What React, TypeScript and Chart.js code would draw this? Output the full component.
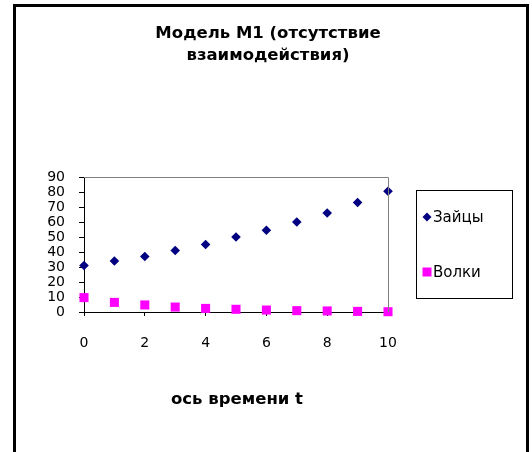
import React, { useEffect, useRef } from "react";
import { Chart, registerables } from "chart.js";

Chart.register(...registerables);

const timeSteps = [0, 1, 2, 3, 4, 5, 6, 7, 8, 9, 10];
const hares = [31, 34, 37, 41, 45, 50, 54.5, 60, 66, 73, 80.5];
const wolves = [9.6, 6.4, 4.7, 3.3, 2.4, 1.8, 1.3, 0.9, 0.7, 0.4, 0.2];
const seriesNames = ["Зайцы", "Волки"];
const titleLines = ["Модель М1 (отсутствие", "взаимодействия)"];
const xAxisTitle = "ось времени t";

const FONT = "'DejaVu Sans', 'Liberation Sans', Arial, sans-serif";

const decorPlugin = {
  id: "decor",
  afterDraw(chart: any) {
    const ctx = chart.ctx as CanvasRenderingContext2D;
    const ca = chart.chartArea;
    ctx.save();
    // grey top/right plot border
    ctx.strokeStyle = "#808080";
    ctx.lineWidth = 1;
    ctx.beginPath();
    ctx.moveTo(ca.left, Math.round(ca.top) + 0.5);
    ctx.lineTo(ca.right + 0.5, Math.round(ca.top) + 0.5);
    ctx.lineTo(Math.round(ca.right) + 0.5, ca.bottom);
    ctx.stroke();

    // outer chart border
    ctx.strokeStyle = "#000";
    ctx.lineWidth = 3;
    ctx.beginPath();
    ctx.moveTo(14.5, 470);
    ctx.lineTo(14.5, 5.5);
    ctx.lineTo(527.5, 5.5);
    ctx.lineTo(527.5, 470);
    ctx.stroke();

    // title
    ctx.fillStyle = "#000";
    ctx.textAlign = "center";
    ctx.textBaseline = "alphabetic";
    ctx.font = `bold 16.5px ${FONT}`;
    ctx.fillText(titleLines[0], 268, 38);
    ctx.fillText(titleLines[1], 268, 60);

    // x axis title
    ctx.font = `bold 16.5px ${FONT}`;
    ctx.fillText(xAxisTitle, (ca.left + ca.right) / 2 + 1, 404);

    // legend
    ctx.lineWidth = 1;
    ctx.strokeStyle = "#000";
    ctx.strokeRect(416.5, 190.5, 96, 108);
    const items = [
      { y: 217, color: "#000080", style: "diamond" },
      { y: 272, color: "#FF00FF", style: "square" },
    ];
    ctx.font = `15px ${FONT}`;
    ctx.textAlign = "left";
    ctx.textBaseline = "middle";
    items.forEach((it, i) => {
      const label = chart.data.datasets[i].label as string;
      const mx = 427;
      ctx.fillStyle = it.color;
      ctx.beginPath();
      if (it.style === "diamond") {
        ctx.moveTo(mx, it.y - 4.5);
        ctx.lineTo(mx + 4.5, it.y);
        ctx.lineTo(mx, it.y + 4.5);
        ctx.lineTo(mx - 4.5, it.y);
        ctx.closePath();
      } else {
        ctx.rect(mx - 4.5, it.y - 4.5, 9, 9);
      }
      ctx.fill();
      ctx.fillStyle = "#000";
      ctx.fillText(label, 433, it.y + 1);
    });
    ctx.restore();
  },
};

export default function App() {
  const ref = useRef<HTMLCanvasElement | null>(null);

  useEffect(() => {
    if (!ref.current) return;
    const chart = new Chart(ref.current, {
      type: "scatter",
      data: {
        datasets: [
          {
            label: seriesNames[0],
            data: timeSteps.map((t, i) => ({ x: t, y: hares[i] })),
            backgroundColor: "#000080",
            borderColor: "#000080",
            borderWidth: 0,
            pointStyle: "rectRot",
            pointRadius: 4.8,
            clip: false,
          },
          {
            label: seriesNames[1],
            data: timeSteps.map((t, i) => ({ x: t, y: wolves[i] })),
            backgroundColor: "#FF00FF",
            borderColor: "#FF00FF",
            borderWidth: 0,
            pointStyle: "rect",
            pointRadius: 6.4,
            clip: false,
          },
        ],
      },
      options: {
        responsive: false,
        animation: false,
        devicePixelRatio: 1,
        layout: { padding: { left: 34, right: 144, top: 177, bottom: 100 } },
        plugins: {
          legend: { display: false },
          title: { display: false },
          tooltip: { enabled: false },
        },
        scales: {
          x: {
            type: "linear",
            min: 0,
            max: 10,
            afterFit: (s: any) => {
              s.height = 40;
            },
            ticks: {
              stepSize: 2,
              autoSkip: false,
              color: "#000",
              font: { family: FONT, size: 14 },
              padding: 19,
              maxRotation: 0,
            },
            grid: {
              drawOnChartArea: false,
              drawTicks: true,
              tickLength: 4,
              tickColor: "#000",
              color: "#000",
            },
            border: { color: "#000", width: 1 },
          },
          y: {
            type: "linear",
            min: 0,
            max: 90,
            afterFit: (s: any) => {
              s.width = 50;
            },
            ticks: {
              stepSize: 10,
              autoSkip: false,
              color: "#000",
              font: { family: FONT, size: 14, lineHeight: 1 },
              padding: 14,
            },
            grid: {
              drawOnChartArea: false,
              drawTicks: true,
              tickLength: 5,
              tickColor: "#000",
              color: "#000",
            },
            border: { color: "#000", width: 1 },
          },
        },
      },
      plugins: [decorPlugin],
    });
    return () => chart.destroy();
  }, []);

  return (
    <div style={{ position: "fixed", left: 0, top: 0, width: 532, height: 452, background: "#fff" }}>
      <canvas ref={ref} width={532} height={452} style={{ display: "block" }} />
    </div>
  );
}
